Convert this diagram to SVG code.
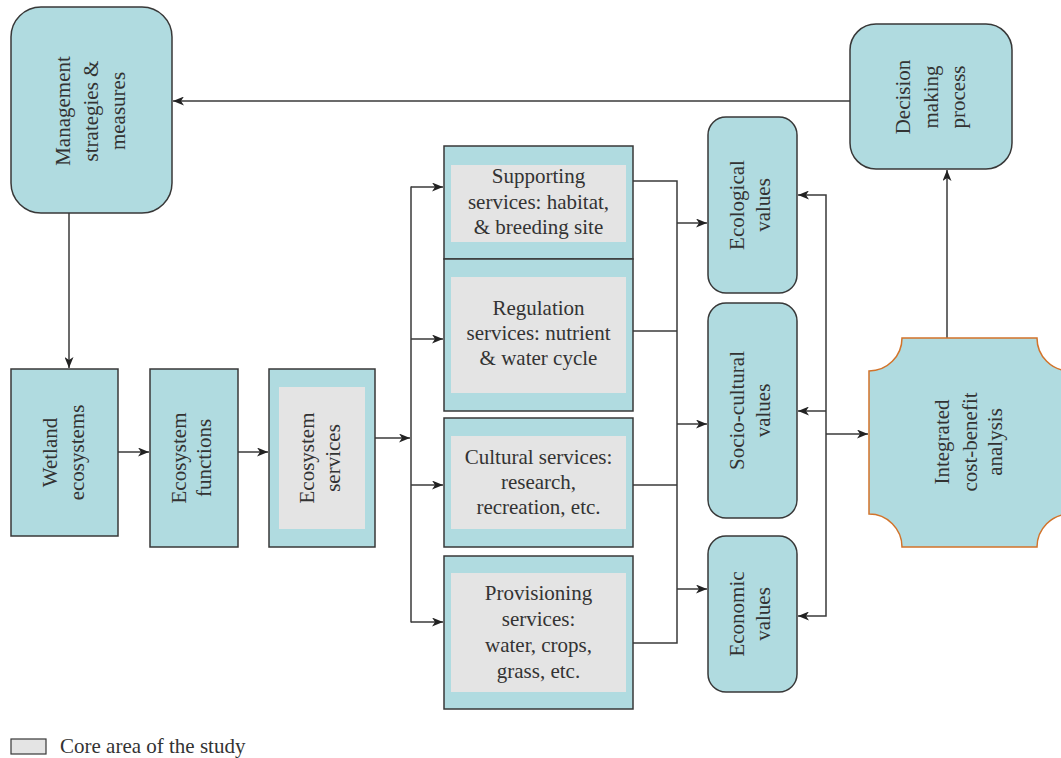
<svg xmlns="http://www.w3.org/2000/svg" width="1061" height="758" viewBox="0 0 1061 758">
<style>
.box{fill:#b0dbe0;stroke:#383838;stroke-width:1.5}
.core{fill:#e4e4e4;stroke:none}
.orange{fill:#b0dbe0;stroke:#d2732a;stroke-width:1.5}
.t{font-family:"Liberation Serif","Times New Roman",serif;font-size:21px;fill:#333;text-anchor:middle}
.tl{font-family:"Liberation Serif","Times New Roman",serif;font-size:21px;fill:#333}
.c{fill:none;stroke:#3a3a3a;stroke-width:1.5}
.a{marker-end:url(#ah)}
</style>
<defs>
<marker id="ah" markerUnits="userSpaceOnUse" markerWidth="12" markerHeight="9" refX="11" refY="4.5" orient="auto">
<path d="M0,0 L11,4.5 L0,9 L3,4.5 Z" fill="#222"/>
</marker>
</defs>
<rect width="1061" height="758" fill="#fff"/>

<g id="connectors">
<line class="c a" x1="850" y1="101" x2="173" y2="101"/>
<line class="c a" x1="69" y1="213" x2="69" y2="368"/>
<line class="c a" x1="118" y1="452" x2="149" y2="452"/>
<line class="c a" x1="238" y1="452" x2="268" y2="452"/>
<line class="c a" x1="375" y1="438" x2="410" y2="438"/>
<line class="c" x1="411" y1="186.5" x2="411" y2="622.5"/>
<line class="c a" x1="411" y1="187" x2="443" y2="187"/>
<line class="c a" x1="411" y1="339" x2="443" y2="339"/>
<line class="c a" x1="411" y1="485" x2="443" y2="485"/>
<line class="c a" x1="411" y1="622" x2="443" y2="622"/>
<polyline class="c" points="633,181 677,181 677,643 633,643"/>
<line class="c" x1="633" y1="331" x2="677" y2="331"/>
<line class="c" x1="633" y1="485" x2="677" y2="485"/>
<line class="c a" x1="677" y1="223" x2="707" y2="223"/>
<line class="c a" x1="677" y1="424" x2="707" y2="424"/>
<line class="c a" x1="677" y1="589" x2="707" y2="589"/>
<polyline class="c a" points="826,411 826,195 798,195"/>
<polyline class="c a" points="826,411 826,616 798,616"/>
<line class="c a" x1="826" y1="411" x2="798" y2="411"/>
<line class="c a" x1="826" y1="434" x2="868" y2="434"/>
<line class="c a" x1="947" y1="338" x2="947" y2="170"/>
</g>

<g id="management">
<rect class="box" x="11" y="7" width="161" height="206" rx="30"/>
<text class="t" transform="translate(0,111) rotate(-90)"><tspan x="0" y="70">Management</tspan><tspan x="0" y="98">strategies &amp;</tspan><tspan x="0" y="125">measures</tspan></text>
</g>

<g id="decision">
<rect class="box" x="850" y="24" width="162" height="145" rx="26"/>
<text class="t" transform="translate(0,97) rotate(-90)"><tspan x="0" y="910">Decision</tspan><tspan x="0" y="938">making</tspan><tspan x="0" y="965">process</tspan></text>
</g>

<g id="wetland">
<rect class="box" x="11" y="369" width="107" height="167"/>
<text class="t" transform="translate(0,452.5) rotate(-90)"><tspan x="0" y="57">Wetland</tspan><tspan x="0" y="84">ecosystems</tspan></text>
</g>

<g id="functions">
<rect class="box" x="150" y="369" width="88" height="178"/>
<text class="t" transform="translate(0,458) rotate(-90)"><tspan x="0" y="186">Ecosystem</tspan><tspan x="0" y="211">functions</tspan></text>
</g>

<g id="services">
<rect class="box" x="269" y="369" width="106" height="178"/>
<rect class="core" x="279" y="387" width="86" height="142"/>
<text class="t" transform="translate(0,458) rotate(-90)"><tspan x="0" y="314">Ecosystem</tspan><tspan x="0" y="340">services</tspan></text>
</g>

<g id="supporting">
<rect class="box" x="444" y="146" width="189" height="113"/>
<rect class="core" x="451" y="165" width="175" height="77"/>
<text class="t"><tspan x="538.5" y="183">Supporting</tspan><tspan x="538.5" y="209">services: habitat,</tspan><tspan x="538.5" y="234">&amp; breeding site</tspan></text>
</g>

<g id="regulation">
<rect class="box" x="444" y="259" width="189" height="152"/>
<rect class="core" x="451" y="277" width="175" height="116"/>
<text class="t"><tspan x="538.5" y="315">Regulation</tspan><tspan x="538.5" y="340">services: nutrient</tspan><tspan x="538.5" y="365">&amp; water cycle</tspan></text>
</g>

<g id="cultural">
<rect class="box" x="444" y="418" width="189" height="129"/>
<rect class="core" x="451" y="436" width="175" height="93"/>
<text class="t"><tspan x="538.5" y="464">Cultural services:</tspan><tspan x="538.5" y="489">research,</tspan><tspan x="538.5" y="514">recreation, etc.</tspan></text>
</g>

<g id="provisioning">
<rect class="box" x="444" y="556" width="189" height="153"/>
<rect class="core" x="451" y="573" width="175" height="119"/>
<text class="t"><tspan x="538.5" y="600">Provisioning</tspan><tspan x="538.5" y="626">services:</tspan><tspan x="538.5" y="652">water, crops,</tspan><tspan x="538.5" y="678">grass, etc.</tspan></text>
</g>

<g id="ecological">
<rect class="box" x="708" y="117" width="89" height="176" rx="18"/>
<text class="t" transform="translate(0,205) rotate(-90)"><tspan x="0" y="744">Ecological</tspan><tspan x="0" y="770">values</tspan></text>
</g>

<g id="sociocultural">
<rect class="box" x="708" y="303" width="89" height="215" rx="18"/>
<text class="t" transform="translate(0,410.5) rotate(-90)"><tspan x="0" y="744">Socio-cultural</tspan><tspan x="0" y="770">values</tspan></text>
</g>

<g id="economic">
<rect class="box" x="708" y="536" width="89" height="156" rx="18"/>
<text class="t" transform="translate(0,614) rotate(-90)"><tspan x="0" y="744">Economic</tspan><tspan x="0" y="770">values</tspan></text>
</g>

<g id="integrated">
<path class="orange" d="M902,338 L1037,338 A33,33 0 0 0 1070,371 L1070,514 A33,33 0 0 0 1037,547 L902,547 A33,33 0 0 0 869,514 L869,371 A33,33 0 0 0 902,338 Z"/>
<text class="t" transform="translate(0,442) rotate(-90)"><tspan x="0" y="949">Integrated</tspan><tspan x="0" y="977">cost-benefit</tspan><tspan x="0" y="1002">analysis</tspan></text>
</g>

<g id="legend">
<rect x="11" y="739" width="35" height="15" fill="#e4e4e4" stroke="#383838" stroke-width="1.2"/>
<text class="tl" x="60" y="753">Core area of the study</text>
</g>
</svg>
